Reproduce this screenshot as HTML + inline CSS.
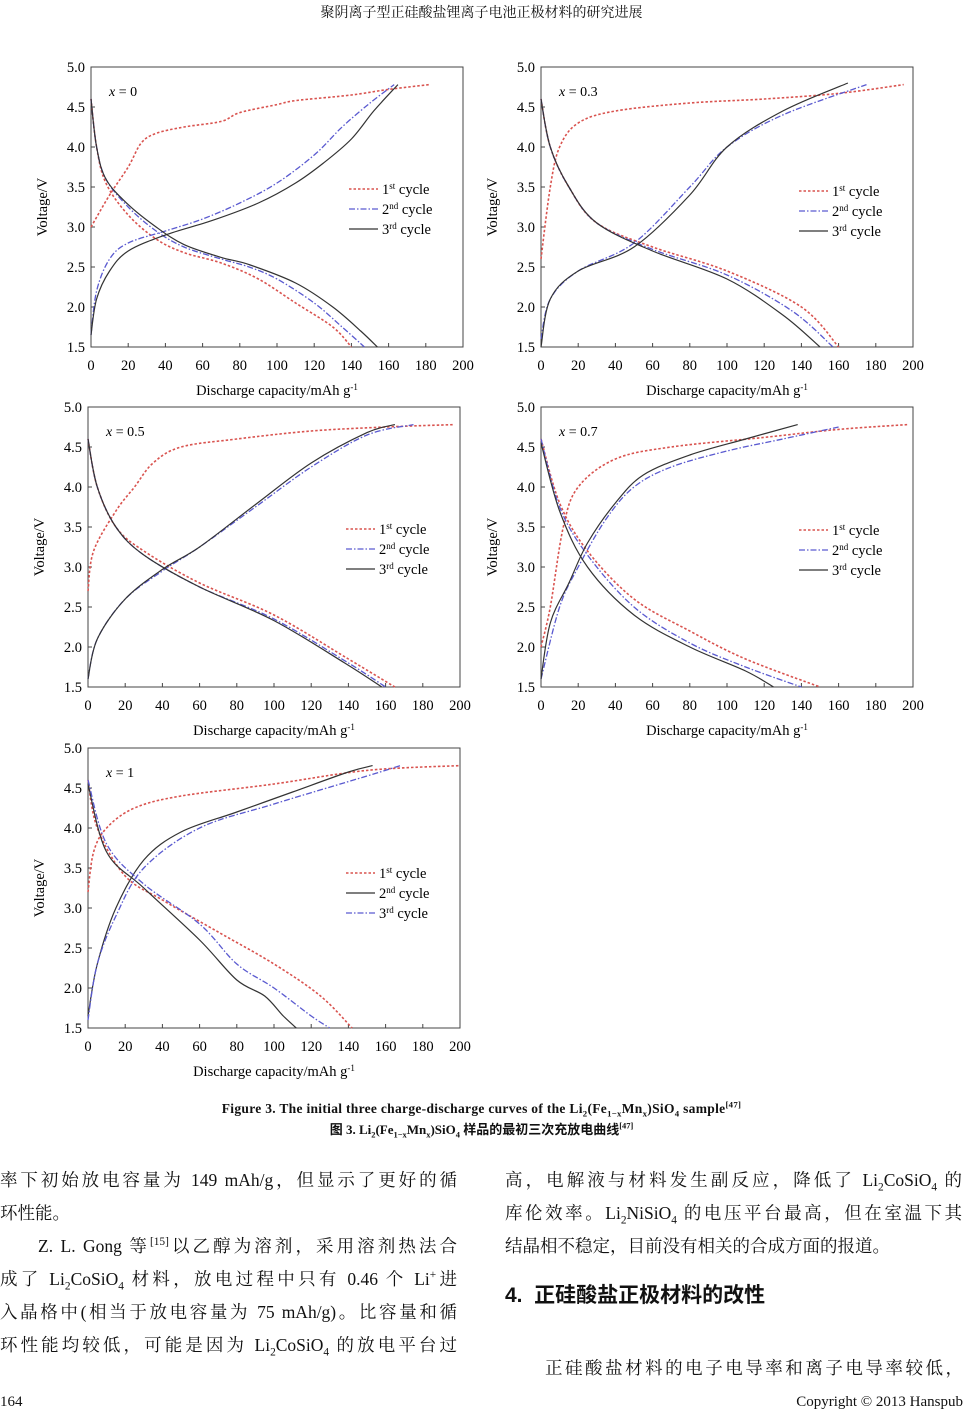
<!DOCTYPE html>
<html><head><meta charset="utf-8">
<style>
body{margin:0;background:#fff;}
#pg{position:relative;width:963px;height:1414px;overflow:hidden;font-family:"Liberation Serif","Noto Serif CJK SC",serif;color:#111;}
.t{position:absolute;white-space:nowrap;}
.body{font-size:17.5px;width:457px;text-align:justify;text-align-last:justify;white-space:normal;}
.nl{text-align-last:left;}
sub,sup{font-size:65%;line-height:0;}
</style></head><body><div id="pg">
<div class="t" style="left:0;width:963px;text-align:center;top:2px;font-size:14px;">聚阴离子型正硅酸盐锂离子电池正极材料的研究进展</div>
<svg id="fig" width="963" height="1090" style="position:absolute;left:0;top:0" font-family="Liberation Serif, serif"></svg>
<div class="t" style="left:0;width:963px;text-align:center;top:1101px;font-size:13.5px;font-weight:bold;letter-spacing:0.3px;">Figure 3. The initial three charge-discharge curves of the Li<sub>2</sub>(Fe<sub>1−x</sub>Mn<sub>x</sub>)SiO<sub>4</sub> sample<sup>[47]</sup></div>
<div class="t" style="left:0;width:963px;text-align:center;top:1119px;font-size:13px;font-weight:bold;font-family:'Liberation Serif','Noto Sans CJK SC',serif;">图 3. Li<sub>2</sub>(Fe<sub>1−x</sub>Mn<sub>x</sub>)SiO<sub>4</sub> 样品的最初三次充放电曲线<sup>[47]</sup></div>
<div class="t body" style="left:0;top:1167px;">率下初始放电容量为 149 mAh/g，但显示了更好的循</div>
<div class="t body nl" style="left:0;top:1200px;">环性能。</div>
<div class="t body" style="left:38px;width:419px;top:1233px;">Z. L. Gong 等<sup>[15]</sup>以乙醇为溶剂，采用溶剂热法合</div>
<div class="t body" style="left:0;top:1266px;">成了 Li<sub>2</sub>CoSiO<sub>4</sub> 材料，放电过程中只有 0.46 个 Li<sup>+</sup>进</div>
<div class="t body" style="left:0;top:1299px;">入晶格中(相当于放电容量为 75 mAh/g)。比容量和循</div>
<div class="t body" style="left:0;top:1332px;">环性能均较低，可能是因为 Li<sub>2</sub>CoSiO<sub>4</sub> 的放电平台过</div>
<div class="t body" style="left:505px;top:1167px;">高，电解液与材料发生副反应，降低了 Li<sub>2</sub>CoSiO<sub>4</sub> 的</div>
<div class="t body" style="left:505px;top:1200px;">库伦效率。Li<sub>2</sub>NiSiO<sub>4</sub> 的电压平台最高，但在室温下其</div>
<div class="t body nl" style="left:505px;top:1233px;">结晶相不稳定，目前没有相关的合成方面的报道。</div>
<div class="t" style="left:505px;top:1279px;font-size:21px;font-weight:bold;font-family:'Liberation Sans','Noto Sans CJK SC',sans-serif;">4.&nbsp; 正硅酸盐正极材料的改性</div>
<div class="t body" style="left:545px;width:418px;top:1355px;">正硅酸盐材料的电子电导率和离子电导率较低，</div>
<div class="t" style="left:0;top:1394px;font-size:15px;">164</div>
<div class="t" style="right:0;top:1394px;font-size:15px;">Copyright © 2013 Hanspub</div>
</div>
<script>
const R='#d9534f',B='#5a5ad0',K='#333';
const S={r:{c:R,d:'2.5,2',w:1.6},b:{c:B,d:'6,2,1.5,2',w:1.3},k:{c:K,d:'',w:1.2}};
const panels=[
{x:91,y:67,lab:'x = 0',leg:['r','b','k'],ly:122,curves:[
['r',[[0,3.0],[10,3.4],[20,3.75],[27,4.05],[35,4.17],[50,4.25],[70,4.32],[80,4.43],[100,4.53],[110,4.58],[140,4.65],[160,4.72],[182,4.78]]],
['r',[[0,4.6],[3,4.0],[8,3.55],[20,3.15],[35,2.85],[50,2.68],[70,2.55],[90,2.35],[110,2.05],[130,1.75],[140,1.5]]],
['b',[[0,1.65],[3,2.2],[10,2.6],[20,2.8],[40,2.95],[60,3.1],[80,3.3],[100,3.55],[120,3.9],[135,4.25],[150,4.55],[163,4.78]]],
['b',[[0,4.6],[3,4.0],[8,3.6],[20,3.25],[35,2.95],[50,2.75],[70,2.6],[85,2.5],[100,2.35],[120,2.05],[135,1.75],[147,1.5]]],
['k',[[0,1.65],[3,2.1],[10,2.45],[20,2.7],[40,2.9],[65,3.08],[90,3.3],[110,3.55],[125,3.8],[140,4.1],[152,4.45],[165,4.78]]],
['k',[[0,4.6],[3,4.0],[8,3.6],[20,3.28],[35,3.0],[50,2.78],[70,2.62],[85,2.53],[110,2.3],[130,2.0],[145,1.7],[154,1.5]]]]},
{x:541,y:67,lab:'x = 0.3',leg:['r','b','k'],ly:124,curves:[
['r',[[0,2.6],[5,3.5],[10,4.0],[20,4.3],[40,4.45],[80,4.55],[120,4.6],[160,4.67],[195,4.78]]],
['r',[[0,4.6],[5,4.0],[15,3.5],[30,3.05],[60,2.75],[100,2.45],[140,2.0],[160,1.5]]],
['b',[[0,1.6],[5,2.1],[20,2.45],[50,2.8],[80,3.5],[100,4.0],[130,4.4],[175,4.78]]],
['b',[[0,4.6],[5,4.0],[15,3.5],[30,3.05],[60,2.72],[100,2.4],[135,1.95],[157,1.5]]],
['k',[[0,1.5],[5,2.1],[20,2.45],[50,2.75],[80,3.4],[100,4.0],[130,4.45],[165,4.8]]],
['k',[[0,4.6],[5,4.0],[15,3.5],[30,3.05],[60,2.7],[100,2.35],[130,1.9],[150,1.5]]]]},
{x:88,y:407,lab:'x = 0.5',leg:['r','b','k'],ly:122,curves:[
['r',[[0,2.7],[3,3.2],[15,3.7],[25,4.0],[35,4.3],[50,4.5],[80,4.6],[120,4.7],[160,4.75],[197,4.78]]],
['r',[[0,4.6],[5,4.0],[15,3.5],[30,3.2],[60,2.8],[100,2.4],[140,1.85],[165,1.5]]],
['b',[[0,1.6],[5,2.1],[20,2.6],[40,2.95],[60,3.25],[90,3.75],[120,4.25],[150,4.65],[175,4.78]]],
['b',[[0,4.6],[5,4.0],[15,3.5],[30,3.15],[60,2.75],[100,2.35],[140,1.8],[160,1.5]]],
['k',[[0,1.6],[5,2.1],[20,2.6],[40,2.97],[60,3.25],[90,3.78],[120,4.3],[150,4.68],[165,4.78]]],
['k',[[0,4.6],[5,4.0],[15,3.5],[30,3.15],[60,2.75],[100,2.33],[138,1.8],[158,1.5]]]]},
{x:541,y:407,lab:'x = 0.7',leg:['r','b','k'],ly:123,curves:[
['r',[[0,2.0],[5,2.5],[12,3.5],[20,4.0],[40,4.35],[70,4.5],[120,4.62],[160,4.72],[197,4.78]]],
['r',[[0,4.6],[10,3.8],[25,3.2],[50,2.6],[80,2.2],[110,1.85],[150,1.5]]],
['b',[[0,1.6],[10,2.5],[20,3.0],[35,3.6],[50,4.0],[70,4.25],[100,4.45],[130,4.6],[160,4.75]]],
['b',[[0,4.6],[10,3.75],[25,3.15],[50,2.5],[80,2.05],[110,1.75],[140,1.5]]],
['k',[[0,1.6],[5,2.3],[15,2.8],[25,3.3],[40,3.8],[55,4.15],[80,4.4],[110,4.6],[138,4.78]]],
['k',[[0,4.55],[10,3.7],[25,3.0],[50,2.4],[80,2.0],[110,1.7],[125,1.5]]]]},
{x:88,y:748,lab:'x = 1',leg:['r','k','b'],ly:125,curves:[
['r',[[0,3.2],[3,3.7],[10,4.0],[25,4.25],[50,4.4],[100,4.55],[150,4.72],[200,4.78]]],
['r',[[0,4.6],[5,4.0],[20,3.4],[40,3.1],[70,2.7],[100,2.3],[125,1.9],[142,1.5]]],
['k',[[0,1.65],[5,2.3],[15,3.0],[30,3.6],[50,3.95],[80,4.2],[110,4.45],[140,4.7],[153,4.78]]],
['k',[[0,4.55],[10,3.7],[30,3.25],[60,2.6],[80,2.1],[95,1.9],[105,1.65],[112,1.5]]],
['b',[[0,1.6],[5,2.3],[15,2.9],[30,3.5],[60,4.0],[100,4.3],[150,4.65],[168,4.78]]],
['b',[[0,4.6],[10,3.8],[30,3.3],[60,2.8],[80,2.3],[100,2.0],[120,1.65],[130,1.5]]]]}];
const W=372,H=280;let h='';
const names=['1<tspan baseline-shift="super" font-size="9">st</tspan> cycle','2<tspan baseline-shift="super" font-size="9">nd</tspan> cycle','3<tspan baseline-shift="super" font-size="9">rd</tspan> cycle'];
function smooth(P){let d=`M${P[0][0].toFixed(1)},${P[0][1].toFixed(1)}`;
 for(let i=0;i<P.length-1;i++){const p0=P[Math.max(0,i-1)],p1=P[i],p2=P[i+1],p3=P[Math.min(P.length-1,i+2)];
  const c1=[p1[0]+(p2[0]-p0[0])/6,p1[1]+(p2[1]-p0[1])/6],c2=[p2[0]-(p3[0]-p1[0])/6,p2[1]-(p3[1]-p1[1])/6];
  d+=` C${c1[0].toFixed(1)},${c1[1].toFixed(1)} ${c2[0].toFixed(1)},${c2[1].toFixed(1)} ${p2[0].toFixed(1)},${p2[1].toFixed(1)}`;}
 return d;}
for(const p of panels){
 const X=c=>p.x+c/200*W, Y=v=>p.y+(5-v)/3.5*H;
 h+=`<rect x="${p.x}" y="${p.y}" width="${W}" height="${H}" fill="none" stroke="#444" stroke-width="1"/>`;
 for(let i=0;i<=7;i++){const v=1.5+i*0.5,y=Y(v);h+=`<text x="${p.x-6}" y="${y+5}" font-size="14.5" text-anchor="end">${v.toFixed(1)}</text><line x1="${p.x}" x2="${p.x+4}" y1="${y}" y2="${y}" stroke="#444"/>`;}
 for(let i=0;i<=10;i++){const c=i*20,x=X(c);h+=`<text x="${x}" y="${p.y+H+23}" font-size="14.5" text-anchor="middle">${c}</text><line x1="${x}" x2="${x}" y1="${p.y+H}" y2="${p.y+H-4}" stroke="#444"/>`;}
 h+=`<text x="${p.x+W/2}" y="${p.y+H+48}" font-size="14.5" text-anchor="middle">Discharge capacity/mAh g<tspan baseline-shift="super" font-size="9">-1</tspan></text>`;
 h+=`<text transform="translate(${p.x-44},${p.y+H/2}) rotate(-90)" font-size="14.5" text-anchor="middle">Voltage/V</text>`;
 h+=`<text x="${p.x+18}" y="${p.y+29}" font-size="14"><tspan font-style="italic">x</tspan>${p.lab.slice(1)}</text>`;
 for(const [s,pts] of p.curves){const st=S[s];h+=`<path fill="none" stroke="${st.c}" stroke-width="${st.w}" ${st.d?`stroke-dasharray="${st.d}"`:''} d="${smooth(pts.map(q=>[X(q[0]),Y(q[1])]))}"/>`;}
 p.leg.forEach((s,i)=>{const st=S[s],y=p.y+p.ly+i*20;h+=`<line x1="${p.x+258}" x2="${p.x+287}" y1="${y}" y2="${y}" stroke="${st.c}" stroke-width="${st.w}" ${st.d?`stroke-dasharray="${st.d}"`:''}/><text x="${p.x+291}" y="${y+5}" font-size="14.5">${names[i]}</text>`;});
}
document.getElementById('fig').innerHTML=h;
</script>
</body></html>
